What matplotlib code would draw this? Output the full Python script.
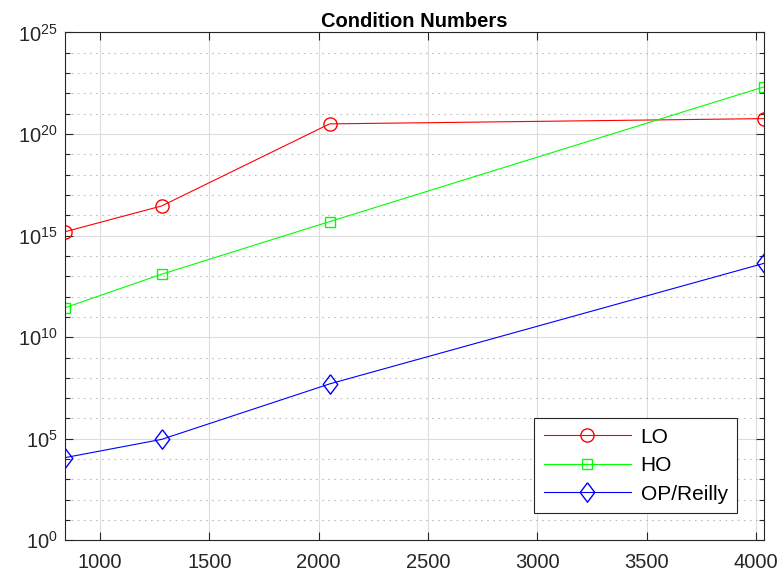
import numpy as np
import matplotlib
matplotlib.use("Agg")
import matplotlib.pyplot as plt
from matplotlib.ticker import FixedLocator, NullFormatter, LogFormatterMathtext

plt.rcParams['font.family'] = ['Liberation Sans', 'DejaVu Sans']
plt.rcParams['mathtext.fontset'] = 'custom'
plt.rcParams['mathtext.rm'] = 'Liberation Sans'

# problem sizes
n = [840, 1282, 2050, 4038]
# condition numbers (read as log10)
lo_exp = [15.19, 16.46, 20.50, 20.76]
ho_exp = [11.45, 13.10, 15.69, 22.33]
op_exp = [4.07, 4.97, 7.70, 13.64]
labels = ['LO', 'HO', 'OP/Reilly']

lo = 10.0 ** np.array(lo_exp)
ho = 10.0 ** np.array(ho_exp)
op = 10.0 ** np.array(op_exp)

# MATLAB style diamond (taller than wide)
diamond = [(0, 1), (0.75, 0), (0, -1), (-0.75, 0), (0, 1)]

fig = plt.figure(figsize=(7.82, 5.79), dpi=100)
ax = fig.add_axes([0.0831, 0.0668, 0.8943, 0.8771])

ax.semilogy(n, lo, '-', color='#ff0000', lw=0.8, marker='o', ms=9.5,
            mfc='none', mec='#ff0000', mew=1.0, label=labels[0])
ax.semilogy(n, ho, '-', color='#00ff00', lw=0.8, marker='s', ms=7.5,
            mfc='none', mec='#00ff00', mew=1.0, label=labels[1])
ax.semilogy(n, op, '-', color='#0000ff', lw=0.8, marker=diamond, ms=14,
            mfc='none', mec='#0000ff', mew=1.0, label=labels[2])

ax.set_xlim(n[0], n[-1])
ax.set_ylim(1e0, 1e25)
ax.set_xticks([1000, 1500, 2000, 2500, 3000, 3500, 4000])
ax.yaxis.set_major_locator(FixedLocator([10.0 ** k for k in range(0, 26, 5)]))
ax.yaxis.set_minor_locator(FixedLocator([10.0 ** k for k in range(0, 26) if k % 5]))
ax.yaxis.set_major_formatter(LogFormatterMathtext())
ax.yaxis.set_minor_formatter(NullFormatter())

ax.grid(True, which='major', color='#dcdcdc', lw=0.8, ls='-')
ax.grid(True, which='minor', axis='y', color='#bdbdbd', lw=0.8, ls=(0, (1.5, 4)))
ax.set_axisbelow(True)

ax.tick_params(which='both', direction='in', top=True, right=True,
               color='#262626', labelsize=14.5, labelcolor='#262626')
ax.tick_params(which='major', length=6, width=0.8)
ax.tick_params(which='minor', length=3.5, width=0.8)
ax.tick_params(axis='x', pad=9)
ax.tick_params(axis='y', pad=5)
for s in ax.spines.values():
    s.set_color('#262626')
    s.set_linewidth(0.8)

ax.set_title('Condition Numbers', fontsize=14.5, fontweight='bold', pad=4)

leg = ax.legend(loc='lower right', bbox_to_anchor=(0.961, 0.054), fontsize=15,
                handlelength=4.2, fancybox=False, framealpha=1,
                edgecolor='#262626', borderpad=0.45, labelspacing=0.45,
                handletextpad=0.45, borderaxespad=0)
leg.get_frame().set_linewidth(0.8)

fig.savefig('out.png', dpi=100)
